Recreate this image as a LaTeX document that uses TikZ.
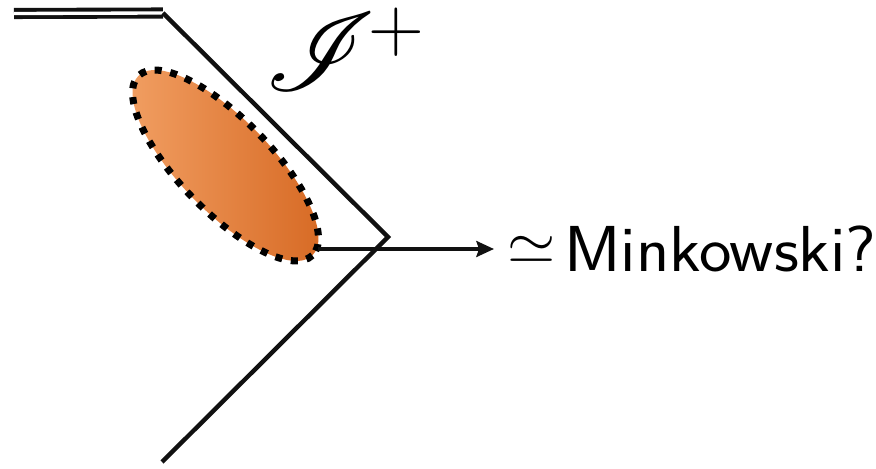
\documentclass[tikz,border=0pt]{standalone}
\usepackage{fix-cm}
\usepackage{amsmath, amssymb, mathrsfs, graphicx}
\DeclareFontFamily{U}{rsfs}{\skewchar\font127 }
\DeclareFontShape{U}{rsfs}{m}{n}{<-> rsfs10}{}
\usepackage{tikz}
\usetikzlibrary{arrows.meta, positioning, calc}
\definecolor{BlobLight}{RGB}{242, 160, 100}
\definecolor{BlobMid}{RGB}{234, 128, 56}
\definecolor{BlobDark}{RGB}{214, 104, 34}
\definecolor{Ink}{HTML}{111111}

\begin{document}
\begin{tikzpicture}[x=0.02cm, y=-0.02cm, >=Stealth]
    \useasboundingbox (0,0) rectangle (876,469);

    % 1. Key points of the diagram
    \coordinate (Corner) at (163,13);
    \coordinate (Spatial) at (388,237);
    \coordinate (Past) at (162,462);
    \coordinate (Centre) at (225.5,165.5);
    \coordinate (Tail) at (318,249);

    % 2. Singular boundary (double line) and null infinity
    \draw[color=Ink, double, double distance=1.9pt, line width=2.2pt] (14,13.5) -- (Corner);
    \draw[color=Ink, line width=2.5pt] (Corner) -- (Spatial) -- (Past);

    % 3. Shaded region (orange ellipse, dotted rim)
    \shade[left color=BlobLight, middle color=BlobMid, right color=BlobDark, rotate around={-46:(Centre)}]
        (Centre) ellipse (125 and 46);
    \draw[color=black, line width=4pt, dash pattern=on 4pt off 5pt, rotate around={-46:(Centre)}]
        (Centre) ellipse (125 and 46);

    % 4. Labels
    \node[anchor=base west, inner sep=0pt, font=\fontsize{63}{66}\selectfont] (scri) at (265.5,90.5)
        {\makebox[2.06cm][l]{$\mathscr{I}$}\raisebox{0.79cm}{\fontsize{44}{48}\selectfont$+$}};
    \node[anchor=base west, inner sep=0pt, font=\fontsize{37}{40}\selectfont\sffamily] (mink) at (507,272)
        {\scalebox{1.06}[1]{\raisebox{0.17cm}{\scalebox{0.9}{$\simeq$}}\hspace{0.165cm}Minkowski?}};

    % 5. Arrow from the region to its label
    \draw[color=Ink, line width=2.2pt, shorten >=0.26cm, -{Stealth[length=10pt, width=9pt, inset=1.5pt]}]
        (Tail) -- (Tail -| mink.west);
\end{tikzpicture}
\end{document}
